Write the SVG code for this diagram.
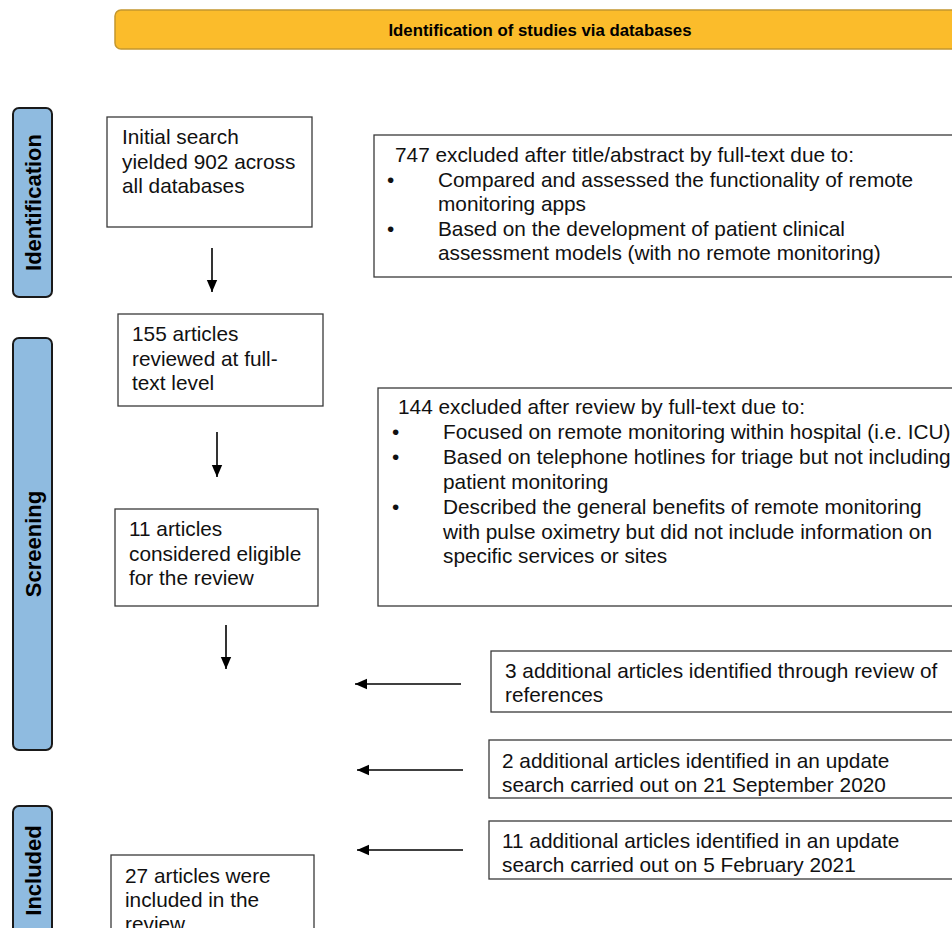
<svg xmlns="http://www.w3.org/2000/svg" width="952" height="928" viewBox="0 0 952 928">
<defs>
<marker id="ah" markerUnits="userSpaceOnUse" markerWidth="12" markerHeight="12" viewBox="0 0 12 12" refX="12" refY="6" orient="auto">
<path d="M0,0.8 L12,6 L0,11.2 Z" fill="#000"/>
</marker>
</defs>
<style>
.box{fill:#fff;stroke:#3a3a3a;stroke-width:1.3}
.t{font-family:"Liberation Sans",Arial,sans-serif;font-size:20.8px;fill:#111}
.side{fill:#8fbbe0;stroke:#1a1a1a;stroke-width:2}
.sl{font-family:"Liberation Sans",Arial,sans-serif;font-size:22px;font-weight:bold;fill:#000;text-anchor:middle}
.hdr{fill:#fbbc2b;stroke:#c4972f;stroke-width:1.5}
.ht{font-family:"Liberation Sans",Arial,sans-serif;font-size:16.8px;font-weight:bold;fill:#000;text-anchor:middle}
.c{stroke:#000;stroke-width:1.6;fill:none;marker-end:url(#ah)}
</style>
<rect width="952" height="928" fill="#fff"/>
<g id="header">
<rect class="hdr" x="115" y="10" width="860" height="39" rx="6"/>
<text class="ht" x="540" y="35.5">Identification of studies via databases</text>
</g>
<g id="stage-identification">
<rect class="side" x="13" y="108" width="39" height="189" rx="6"/>
<text class="sl" transform="translate(40.5,202.5) rotate(-90)">Identification</text>
</g>
<g id="stage-screening">
<rect class="side" x="13" y="338" width="39" height="412" rx="6"/>
<text class="sl" transform="translate(40.5,544) rotate(-90)">Screening</text>
</g>
<g id="stage-included">
<rect class="side" x="13" y="806" width="39" height="140" rx="6"/>
<text class="sl" transform="translate(40.5,870.5) rotate(-90)">Included</text>
</g>
<g id="initial-search">
<rect class="box" x="107" y="117" width="205" height="110"/>
<text class="t" x="122" y="144">Initial search</text>
<text class="t" x="122" y="168.5">yielded 902 across</text>
<text class="t" x="122" y="193">all databases</text>
</g>
<g id="excluded-747">
<rect class="box" x="374" y="135" width="600" height="142"/>
<text class="t" x="395" y="162">747 excluded after title/abstract by full-text due to:</text>
<text class="t" x="387" y="187">•</text>
<text class="t" x="438" y="187">Compared and assessed the functionality of remote</text>
<text class="t" x="438" y="211">monitoring apps</text>
<text class="t" x="387" y="236">•</text>
<text class="t" x="438" y="236">Based on the development of patient clinical</text>
<text class="t" x="438" y="260">assessment models (with no remote monitoring)</text>
</g>
<g id="fulltext-155">
<rect class="box" x="118" y="314" width="205" height="92"/>
<text class="t" x="132" y="341">155 articles</text>
<text class="t" x="132" y="365.5">reviewed at full-</text>
<text class="t" x="132" y="390">text level</text>
</g>
<g id="excluded-144">
<rect class="box" x="378" y="388" width="600" height="218"/>
<text class="t" x="398" y="414">144 excluded after review by full-text due to:</text>
<text class="t" x="392" y="439">•</text>
<text class="t" x="443" y="439">Focused on remote monitoring within hospital (i.e. ICU)</text>
<text class="t" x="392" y="464">•</text>
<text class="t" x="443" y="464">Based on telephone hotlines for triage but not including</text>
<text class="t" x="443" y="489">patient monitoring</text>
<text class="t" x="392" y="514">•</text>
<text class="t" x="443" y="514">Described the general benefits of remote monitoring</text>
<text class="t" x="443" y="539">with pulse oximetry but did not include information on</text>
<text class="t" x="443" y="563">specific services or sites</text>
</g>
<g id="eligible-11">
<rect class="box" x="115" y="509" width="203" height="97"/>
<text class="t" x="129" y="536">11 articles</text>
<text class="t" x="129" y="561">considered eligible</text>
<text class="t" x="129" y="585">for the review</text>
</g>
<g id="additional-3">
<rect class="box" x="491" y="651" width="480" height="61"/>
<text class="t" x="505" y="678">3 additional articles identified through review of</text>
<text class="t" x="505" y="702">references</text>
</g>
<g id="additional-2">
<rect class="box" x="489" y="740" width="480" height="58"/>
<text class="t" x="502" y="768">2 additional articles identified in an update</text>
<text class="t" x="502" y="792">search carried out on 21 September 2020</text>
</g>
<g id="additional-11">
<rect class="box" x="489" y="821" width="480" height="58"/>
<text class="t" x="502" y="848">11 additional articles identified in an update</text>
<text class="t" x="502" y="872">search carried out on 5 February 2021</text>
</g>
<g id="included-27">
<rect class="box" x="111" y="855" width="203" height="100"/>
<text class="t" x="125" y="883">27 articles were</text>
<text class="t" x="125" y="907">included in the</text>
<text class="t" x="125" y="931">review</text>
</g>
<g id="connectors">
<line class="c" x1="212" y1="248" x2="212" y2="292"/>
<line class="c" x1="217" y1="432" x2="217" y2="477"/>
<line class="c" x1="226" y1="625" x2="226" y2="669"/>
<line class="c" x1="461" y1="684" x2="355" y2="684"/>
<line class="c" x1="463" y1="770" x2="357" y2="770"/>
<line class="c" x1="463" y1="850" x2="357" y2="850"/>
</g>
</svg>
